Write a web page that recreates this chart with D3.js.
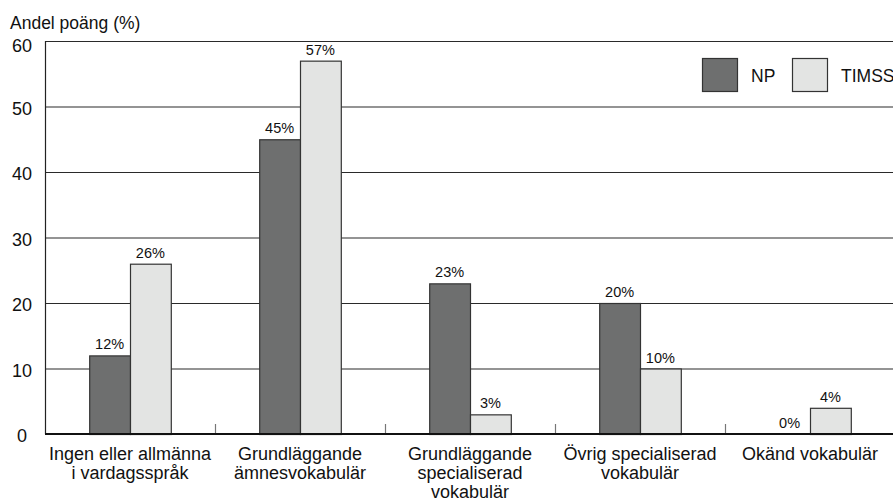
<!DOCTYPE html>
<html>
<head>
<meta charset="utf-8">
<script src="https://cdn.jsdelivr.net/npm/d3@7"></script>
<style>
  html, body { margin: 0; padding: 0; background: #fff; }
  svg { display: block; font-family: "Liberation Sans", Arial, sans-serif; }
</style>
</head>
<body>
<svg id="chart" width="893" height="502"></svg>
<script>
// Category labels (line breaks as printed under the axis)
const categories = [
  ["Ingen eller allmänna", "i vardagsspråk"],
  ["Grundläggande", "ämnesvokabulär"],
  ["Grundläggande", "specialiserad", "vokabulär"],
  ["Övrig specialiserad", "vokabulär"],
  ["Okänd vokabulär"]
];
const seriesNames = ["NP", "TIMSS"];
const npValues = [12, 45, 23, 20, 0];
const timssValues = [26, 57, 3, 10, 4];
const yTicks = [0, 10, 20, 30, 40, 50, 60];
const yTitle = "Andel poäng (%)";

const seriesColors = { NP: "#6e6f6f", TIMSS: "#e3e4e3" };

const svg = d3.select("#chart");
const margin = { left: 45, top: 41, right: -2, bottom: 68 };
const W = 893, H = 502;
const plotRight = W - margin.right;
const zeroY = H - margin.bottom;

const catKeys = categories.map((c, i) => i);
const x = d3.scaleBand().domain(catKeys).range([margin.left, plotRight]).padding(0);
const barW = x.bandwidth() * 0.24;
const xs = d3.scaleBand().domain(seriesNames).range([0, barW * 2]);
const y = d3.scaleLinear().domain([0, 60]).range([zeroY, margin.top]);

const rows = catKeys.map(i => ({ i, NP: npValues[i], TIMSS: timssValues[i] }));

// horizontal gridlines
svg.append("g")
  .selectAll("line")
  .data(yTicks.filter(t => t > 0))
  .join("line")
  .attr("x1", margin.left).attr("x2", W)
  .attr("y1", d => y(d) + 0.5).attr("y2", d => y(d) + 0.5)
  .attr("stroke", "#2a2a2a").attr("stroke-width", 1.2);

// y tick labels
svg.append("g")
  .selectAll("text")
  .data(yTicks)
  .join("text")
  .attr("x", 22)
  .attr("y", d => y(d) + (d === 60 ? 11 : 8))
  .attr("text-anchor", "middle")
  .attr("font-size", 18)
  .attr("fill", "#111")
  .text(d => d);

// y title
svg.append("text")
  .attr("x", 10).attr("y", 29)
  .attr("font-size", 17.5)
  .attr("fill", "#111")
  .text(yTitle);

// separators between categories
svg.append("g")
  .selectAll("line")
  .data(catKeys.slice(1))
  .join("line")
  .attr("x1", d => x(d) + 0.5).attr("x2", d => x(d) + 0.5)
  .attr("y1", zeroY - 10).attr("y2", zeroY)
  .attr("stroke", "#777").attr("stroke-width", 1.2);

// bars
const groups = svg.append("g")
  .selectAll("g")
  .data(rows)
  .join("g")
  .attr("transform", d => `translate(${x(d.i) + x.bandwidth() / 2 - barW},0)`);

groups.selectAll("rect")
  .data(d => seriesNames.map(s => ({ s, v: d[s] })).filter(e => e.v > 0))
  .join("rect")
  .attr("x", e => xs(e.s) + 0.5)
  .attr("y", e => y(e.v) + 0.5)
  .attr("width", xs.bandwidth())
  .attr("height", e => y(0) - y(e.v))
  .attr("fill", e => seriesColors[e.s])
  .attr("stroke", "#333")
  .attr("stroke-width", 1.2);

// value labels
groups.selectAll("text")
  .data(d => seriesNames.map(s => ({ s, v: d[s] })))
  .join("text")
  .attr("x", e => xs(e.s) + xs.bandwidth() / 2)
  .attr("y", e => y(e.v) - 6)
  .attr("text-anchor", "middle")
  .attr("font-size", 14.5)
  .attr("fill", "#111")
  .text(e => e.v + "%");

// axis lines
svg.append("line")
  .attr("x1", margin.left + 0.5).attr("x2", margin.left + 0.5)
  .attr("y1", margin.top).attr("y2", zeroY)
  .attr("stroke", "#222").attr("stroke-width", 1.2);
svg.append("line")
  .attr("x1", margin.left).attr("x2", W)
  .attr("y1", zeroY).attr("y2", zeroY)
  .attr("stroke", "#111").attr("stroke-width", 2);

// category labels
svg.append("g")
  .selectAll("text")
  .data(catKeys)
  .join("text")
  .attr("text-anchor", "middle")
  .attr("font-size", 18)
  .attr("fill", "#111")
  .each(function (i) {
    const t = d3.select(this);
    categories[i].forEach((line, k) => {
      t.append("tspan")
        .attr("x", x(i) + x.bandwidth() / 2)
        .attr("y", zeroY + 26 + k * 19)
        .text(line);
    });
  });

// legend
const legend = svg.append("g").attr("transform", `translate(${plotRight - 193},58)`);
const legendStep = 90;
seriesNames.forEach((s, k) => {
  const g = legend.append("g").attr("transform", `translate(${k * legendStep},0)`);
  g.append("rect")
    .attr("x", 0.5).attr("y", 0.5)
    .attr("width", 35).attr("height", 33)
    .attr("fill", seriesColors[s])
    .attr("stroke", "#333").attr("stroke-width", 1.2);
  g.append("text")
    .attr("x", 49).attr("y", 24)
    .attr("font-size", 17.5)
    .attr("fill", "#111")
    .text(s);
});
</script>
</body>
</html>
